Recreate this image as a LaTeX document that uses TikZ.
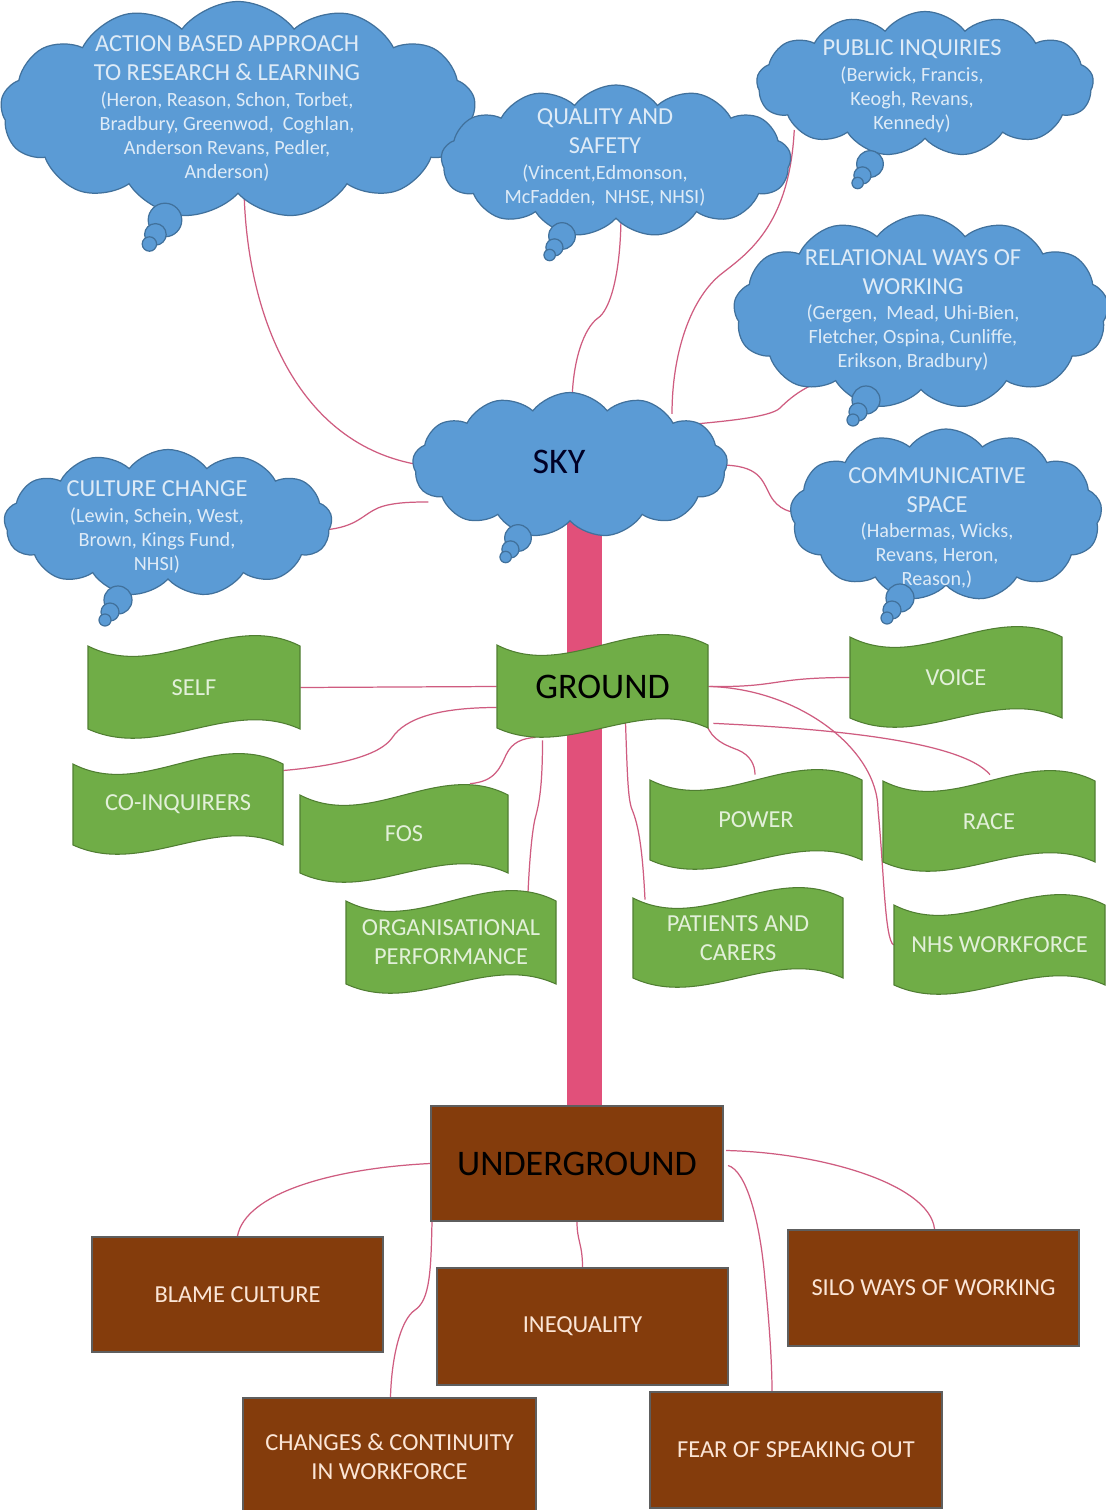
\documentclass[tikz,border=0pt]{standalone}
\usepackage{fontspec}
\setmainfont{Carlito}
\usetikzlibrary{shapes.symbols,calc}
\pgfdeclarelayer{bg}
\pgfsetlayers{bg,main}

\definecolor{cloudfill}{HTML}{5B9BD5}
\definecolor{cloudedge}{HTML}{41719C}
\definecolor{cloudink}{HTML}{DEEBF7}
\definecolor{flagfill}{HTML}{70AD47}
\definecolor{flagedge}{HTML}{507E32}
\definecolor{flagink}{HTML}{E2F0D9}
\definecolor{soilfill}{HTML}{843C0C}
\definecolor{soiledge}{HTML}{5E5E5E}
\definecolor{soilink}{HTML}{FBE5D6}
\definecolor{trunkpink}{HTML}{E1507A}
\definecolor{linkpink}{HTML}{CF5C80}

\tikzset{
  cloudshape/.style={cloud, cloud puffs=13, cloud puff arc=105, fill=cloudfill,
    draw=cloudedge, line width=0.7pt, inner sep=0pt},
  tailpuff/.style={fill=cloudfill, draw=cloudedge, line width=0.7pt},
  cloudhead/.style={text=cloudink, align=center, inner sep=0pt,
    font=\fontsize{13.9}{16.6}\selectfont},
  cloudrefs/.style={text=cloudink, align=center, inner sep=0pt,
    font=\fontsize{11.5}{13.66}\selectfont},
  bigword/.style={text=black, font=\fontsize{20.5}{24}\selectfont},
  flagbody/.style={fill=flagfill, draw=flagedge, line width=0.6pt},
  flaglabel/.style={text=flagink, align=center, inner sep=0pt,
    font=\fontsize{13.9}{16.6}\selectfont},
  soilbox/.style={rectangle, fill=soilfill, draw=soiledge, line width=1.2pt,
    text=soilink, align=center, inner sep=0pt,
    font=\fontsize{13.9}{16.6}\selectfont},
  link/.style={draw=linkpink, line width=0.7pt},
  trunkbar/.style={draw=trunkpink, line width=0.7cm},
}

% three shrinking puffs under a thought cloud
\newcommand{\cloudtail}[3]{%
  \begin{scope}[shift={(#1,#2)}, scale=#3]
    \filldraw[tailpuff] (0,0) circle[radius=14];
    \filldraw[tailpuff] (-8,12) circle[radius=9];
    \filldraw[tailpuff] (-13,20) circle[radius=6];
  \end{scope}}

% waving banner: [label options] left, top, right, bottom, name, text
\newcommand{\greenflag}[7][]{%
  \pgfmathsetmacro\flA{#2+(#4-#2)/3}%
  \pgfmathsetmacro\flB{#2+2*(#4-#2)/3}%
  \pgfmathsetmacro\flW{(#4-#2)*0.02}%
  \pgfmathsetmacro\flH{(#5-#3)*0.02}%
  \filldraw[flagbody] (#2,#3) .. controls (\flA,#3+36) and (\flB,#3-36) .. (#4,#3)
    -- (#4,#5) .. controls (\flB,#5-32) and (\flA,#5+32) .. (#2,#5) -- cycle;
  \node[flaglabel, minimum width=\flW cm, minimum height=\flH cm, #1] (#6)
    at ({(#2+#4)/2},{(#3+#5)/2}) {#7};
}

\begin{document}
\begin{tikzpicture}[x=0.02cm, y=-0.02cm]
\useasboundingbox (0,0) rectangle (1105,1510);

% ---------- sky ----------
\node[cloudshape, minimum width=9.5cm, minimum height=4.34cm] (act) at (238,110) {};
\node[cloudshape, minimum width=7.0cm, minimum height=3.04cm] (qual) at (616,161) {};
\node[cloudshape, minimum width=6.74cm, minimum height=2.9cm] (pub) at (925,84) {};
\node[cloudshape, minimum width=7.5cm, minimum height=3.88cm] (rel) at (921,312) {};
\node[cloudshape, minimum width=6.3cm, minimum height=2.9cm] (sky) at (570,465) {};
\node[cloudshape, minimum width=6.56cm, minimum height=2.94cm] (cult) at (168,523) {};
\node[cloudshape, minimum width=6.24cm, minimum height=3.44cm] (comm) at (946,515) {};

\cloudtail{165}{220}{1.2}
\cloudtail{562}{236}{0.95}
\cloudtail{870}{164}{0.95}
\cloudtail{866}{400}{1}
\cloudtail{518}{538}{0.95}
\cloudtail{118}{600}{1}

\node[cloudhead] (actH) at (227,58) {ACTION BASED APPROACH\\TO RESEARCH \& LEARNING};
\node[cloudrefs] (actR) at (227,137) {(Heron, Reason, Schon, Torbet,\\Bradbury, Greenwod,\ \ Coghlan,\\Anderson Revans, Pedler,\\Anderson)};
\node[cloudhead] (qualH) at (605,131) {QUALITY AND\\SAFETY};
\node[cloudrefs] (qualR) at (605,186) {(Vincent,Edmonson,\\McFadden,\ \ NHSE, NHSI)};
\node[cloudhead] (pubH) at (912,49) {PUBLIC INQUIRIES};
\node[cloudrefs] (pubR) at (912,100) {(Berwick, Francis,\\Keogh, Revans,\\Kennedy)};
\node[cloudhead] (relH) at (913,272) {RELATIONAL WAYS OF\\WORKING};
\node[cloudrefs] (relR) at (913,338) {(Gergen,\ \ Mead, Uhi-Bien,\\Fletcher, Ospina, Cunliffe,\\Erikson, Bradbury)};
\node[bigword, text=black!85!blue] (skyW) at (559,462) {SKY};
\node[cloudhead] (cultH) at (157,489) {CULTURE CHANGE};
\node[cloudrefs] (cultR) at (157,541) {(Lewin, Schein, West,\\Brown, Kings Fund,\\NHSI)};
\node[cloudhead] (commH) at (937,490) {COMMUNICATIVE\\SPACE};
\node[cloudrefs] (commR) at (937,556) {(Habermas, Wicks,\\Revans, Heron,\\Reason,)};
\cloudtail{900}{598}{1}

% ---------- ground ----------
\greenflag{88}{646}{300}{729}{self}{SELF}
\greenflag[bigword]{497}{645}{708}{728}{ground}{GROUND}
\greenflag{850}{637}{1062}{718}{voice}{VOICE}
\greenflag{73}{764}{283}{845}{coinq}{CO-INQUIRERS}
\greenflag{300}{795}{508}{873}{fos}{FOS}
\greenflag{650}{780}{862}{860}{power}{POWER}
\greenflag{883}{781}{1095}{862}{race}{RACE}
\greenflag{346}{901}{556}{984}{org}{ORGANISATIONAL\\PERFORMANCE}
\greenflag{633}{898}{843}{978}{patients}{PATIENTS AND\\CARERS}
\greenflag{894}{905}{1105}{985}{nhs}{NHS WORKFORCE}

% ---------- underground ----------
\node[soilbox, bigword, minimum width=5.84cm, minimum height=2.3cm] (ug) at (577,1163.5) {UNDERGROUND};
\node[soilbox, minimum width=5.82cm, minimum height=2.3cm] (blame) at (237.5,1294.5) {BLAME CULTURE};
\node[soilbox, minimum width=5.82cm, minimum height=2.34cm] (ineq) at (582.5,1326.5) {INEQUALITY};
\node[soilbox, minimum width=5.82cm, minimum height=2.32cm] (silo) at (933.5,1288) {SILO WAYS OF WORKING};
\node[soilbox, minimum width=5.86cm, minimum height=2.34cm] (changes) at (389.5,1456.5) {CHANGES \& CONTINUITY\\IN WORKFORCE};
\node[soilbox, minimum width=5.84cm, minimum height=2.32cm] (fear) at (796,1450) {FEAR OF SPEAKING OUT};

% ---------- paper, trunk and connectors ----------
\coordinate (trunktop) at ($(sky.south)+(14,-10)$);
\begin{pgfonlayer}{bg}
\fill[white] (0,0) rectangle (1105,1510);
\draw[trunkbar] (trunktop) -- (trunktop |- ug.north);

\draw[link] ($(act.south)+(6,-6)$) .. controls +(2,124) and +(-125,-20) .. ($(sky.west)+(8,0)$);
\draw[link] ($(qual.south)+(5,-6)$) .. controls +(0,61) and +(12,-8) .. (598,318)
  .. controls +(-14,10) and +(0,-45) .. ($(sky.north)+(2,14)$);
\draw[link] ($(pub.west)+(38,46)$) .. controls +(-5,98) and +(25,-20) .. (720,275)
  .. controls +(-30,25) and +(0,-60) .. ($(sky.north)+(102,22)$);
\draw[link] ($(rel.south)+(-69,-14)$) .. controls +(-37,0) and +(12,-12) .. (780,408)
  .. controls +(-10,10) and +(30,-3) .. ($(sky.center)+(115,-40)$);
\draw[link] ($(sky.east)+(-8,0)$) .. controls +(40,0) and +(-8,-15) .. (770,495)
  .. controls +(8,15) and +(-11,0) .. ($(comm.west)+(12,-2)$);
\draw[link] ($(cult.east)+(-8,7)$) .. controls +(33,-3) and +(-16,7) .. (378,508)
  .. controls +(14,-6) and +(-13,0) .. ($(sky.west)+(16,37)$);

\draw[link] (self.east) -- (ground.west);
\draw[link] ($(coinq.east)+(0,-34)$) .. controls +(57,-5) and +(-12,17) .. (392,738)
  .. controls +(13,-20) and +(-57,0) .. ($(ground.west)+(0,21)$);
\draw[link] ($(fos.north)+(66,-11)$) .. controls +(25,-2) and +(-6,13) .. (506,755)
  .. controls +(6,-13) and +(-13,1) .. ($(ground.south)+(-67,9)$);
\draw[link] ($(org.north)+(77,-8)$) .. controls +(2,-43) and +(-3,10) .. (536,815)
  .. controls +(4,-15) and +(0,40) .. ($(ground.south)+(-60,12)$);
\draw[link] ($(ground.south)+(23,-6)$) .. controls +(2,58) and +(-5,-10) .. (633,812)
  .. controls +(7,18) and +(-2,-40) .. ($(patients.north)+(-93,2)$);
\draw[link] ($(ground.south east)+(-2,-4)$) .. controls +(6,16) and +(-13,-5) .. (738,750)
  .. controls +(12,5) and +(0,-10) .. ($(power.north)+(-1,-5)$);
\draw[link] (ground.east) .. controls +(72,1) and +(-80,0) .. (voice.west);
\draw[link] ($(ground.east)+(2,0)$) .. controls +(90,3) and +(0,-60) .. (878,810)
  .. controls +(6,60) and +(-9,-5) .. (nhs.west);
\draw[link] ($(ground.south east)+(5,-5)$) .. controls +(107,5) and +(-30,-35) .. ($(race.north)+(1,-6)$);

\draw[link] (ug.west) .. controls +(-100,5) and +(8,-42) .. (blame.north);
\draw[link] ($(ug.south west)+(2,0)$) .. controls +(-1,48) and +(15,-10) .. (415,1310)
  .. controls +(-15,10) and +(1,-38) .. ($(changes.north)+(1,0)$);
\draw[link] (ug.south) .. controls +(0,19) and +(0,-23) .. (ineq.north);
\draw[link] ($(ug.east)+(2,-13)$) .. controls +(95,2) and +(-5,-45) .. ($(silo.north)+(1,0)$);
\draw[link] ($(ug.east)+(4,2)$) .. controls +(18,5) and +(-5,-60) .. (765,1280)
  .. controls +(5,50) and +(0,-23) .. ($(fear.north)+(-24,0)$);
\end{pgfonlayer}
\end{tikzpicture}
\end{document}
